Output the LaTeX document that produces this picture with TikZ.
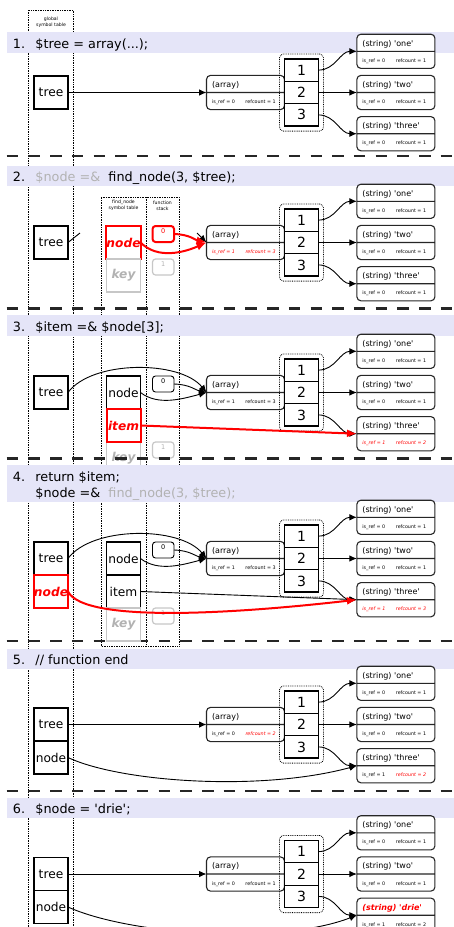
\documentclass[tikz,border=0pt]{standalone}
\usepackage{fontspec}
\setmainfont{DejaVu Sans}
\usetikzlibrary{arrows.meta,positioning,fit,shapes.multipart}
\definecolor{bandc}{RGB}{229,229,248}
\newcommand{\sq}[1]{\textquotesingle#1\textquotesingle}
\newcommand{\hl}[1]{\textcolor{red}{\itshape #1}}
\newcommand{\zhead}[1]{\rule[-4.5pt]{0pt}{16pt}{\fontsize{8}{9}\selectfont #1}}
\newcommand{\zinfo}[2]{\rule[-5.5pt]{0pt}{16pt}{\fontsize{4.8}{5}\selectfont\makebox[33.5pt][l]{#1}#2}}

\begin{document}
\begin{tikzpicture}[x=1pt,y=-1pt,line width=0.9pt,>={Latex[length=7.5pt,width=6.5pt]},
  col/.style={densely dotted,line width=0.7pt},
  hdr/.style={align=center,inner sep=0pt,font=\fontsize{4.6}{6}\selectfont},
  sep/.style={line width=2.3pt,black!85,dash pattern=on 11.5pt off 10.2pt},
  code/.style={anchor=base west,inner sep=0pt,font=\fontsize{12.8}{15}\selectfont},
  var/.style={draw,fill=white,line width=1.1pt,minimum width=34pt,minimum height=33pt,inner sep=0pt,outer sep=0pt,font=\fontsize{12.2}{14}\selectfont},
  hot/.style={draw=red,line width=2pt,text=red,font=\fontsize{12.2}{14}\selectfont\bfseries\itshape},
  ghost/.style={draw=black!22,line width=1.5pt,text=black!30,font=\fontsize{12.2}{14}\selectfont\bfseries\itshape},
  slot/.style={draw,fill=white,rounded corners=3pt,line width=0.9pt,minimum width=21.5pt,minimum height=16pt,inner sep=0pt,outer sep=0pt,text depth=5pt,font=\fontsize{6.5}{7}\selectfont},
  hotslot/.style={draw=red,text=red,line width=2pt},
  ghostslot/.style={draw=black!22,text=black!30,line width=1.2pt},
  cell/.style={draw,fill=white,line width=1.3pt,minimum width=34pt,minimum height=22.4pt,inner sep=0pt,outer sep=0pt,font=\fontsize{14}{16}\selectfont},
  zval/.style={rectangle split,rectangle split parts=2,rectangle split part align=left,draw=black!85,fill=white,line width=1.1pt,rounded corners=4pt,minimum width=78pt,inner xsep=5.5pt,inner ysep=0pt,outer sep=0pt},
  frame/.style={draw,densely dotted,line width=0.8pt,rounded corners=4pt,inner sep=5pt},
  hotline/.style={red,line width=2pt,-{Latex[length=10pt,width=8pt]}}]

\useasboundingbox (0,0) rectangle (454,927);
\clip (0,0) rectangle (454,927);

% symbol table columns
\draw[col] (28.5,927) -- (28.5,10) -- (73,10) -- (73,927);
\node[hdr] (ghead) at (51,22) {global\\symbol table};
\draw[col] (101,646) -- (101,197) -- (179,197) -- (179,646) -- cycle;
\draw[col] (146,197) -- (146,646);
\node[hdr] (fhead) at (123.5,205.5) {find\_node\\symbol table};
\node[hdr] (shead) at (162.5,205.5) {function\\stack};

% left over from step 3, half hidden by step 4
\node[var,ghost] (fkeyc) at (123.5,458.5) {key};
\node[slot,ghostslot,anchor=north west] (s1c) at ([xshift=12pt]fkeyc.north east) {1};

% steps
\fill[bandc] (7,32) rectangle (454,53);
\node[code] (numa) at (12.5,48.5) {1.};
\node[code] (codea) at (35,48.5) {\$tree = array(...);};
\draw[sep] (6.7,156) -- (454,156);

\fill[bandc] (7,165.5) rectangle (454,186.3);
\node[code] (numb) at (12.5,181.5) {2.};
\node[code] (codeb) at (35,181.5) {\textcolor{black!30}{\$node =\&}\ \ find\_node(3, \$tree);};
\draw[sep] (6.7,308.5) -- (454,308.5);

\fill[bandc] (7,315) rectangle (454,336);
\node[code] (numc) at (12.5,331.5) {3.};
\node[code] (codec) at (35,331.5) {\$item =\& \$node[3];};
\draw[sep] (6.7,458.5) -- (454,458.5);

\fill[bandc] (7,465) rectangle (454,502);
\node[code] (numd) at (12.5,481) {4.};
\node[code] (coded) at (35,481) {return \$item;};
\node[code] (codedd) at (35,497.5) {\$node =\&\ \ \textcolor{black!30}{find\_node(3, \$tree);}};
\draw[sep] (6.7,641) -- (454,641);

\fill[bandc] (7,649) rectangle (454,669.3);
\node[code] (nume) at (12.5,664.5) {5.};
\node[code] (codee) at (35,664.5) {// function end};
\draw[sep] (6.7,791) -- (454,791);

\fill[bandc] (7,797.5) rectangle (454,818);
\node[code] (numf) at (12.5,813.5) {6.};
\node[code] (codef) at (35,813.5) {\$node = \sq{drie};};

% the array and its three strings
\foreach \s/\y/\aref/\acnt/\tttl/\tref/\tcnt in {
  a/92.5/{is\_ref = 0}/{refcount = 1}/{(string) \sq{three}}/{is\_ref = 0}/{refcount = 1},
  b/242.5/{\hl{is\_ref = 1}}/{\hl{refcount = 3}}/{(string) \sq{three}}/{is\_ref = 0}/{refcount = 1},
  c/392.5/{is\_ref = 1}/{refcount = 3}/{(string) \sq{three}}/{\hl{is\_ref = 1}}/{\hl{refcount = 2}},
  d/558.5/{is\_ref = 1}/{refcount = 3}/{(string) \sq{three}}/{\hl{is\_ref = 1}}/{\hl{refcount = 3}},
  e/724.5/{is\_ref = 0}/{\hl{refcount = 2}}/{(string) \sq{three}}/{is\_ref = 1}/{\hl{refcount = 2}},
  f/874/{is\_ref = 0}/{refcount = 1}/{\hl{\bfseries (string) \sq{drie}}}/{is\_ref = 1}/{refcount = 2}}
{
  \node[zval] (arr\s) at (245.5,\y) {\zhead{(array)}\nodepart{two}\zinfo{\aref}{\acnt}};
  \node[cell,right=0pt of arr\s] (c2\s) {2};
  \node[cell,above=0pt of c2\s] (c1\s) {1};
  \node[cell,below=0pt of c2\s] (c3\s) {3};
  \node[frame,fit=(c1\s)(c3\s)] (box\s) {};
  \node[zval,right=38.4pt of c2\s] (two\s) {\zhead{(string) \sq{two}}\nodepart{two}\zinfo{is\_ref = 0}{refcount = 1}};
  \node[zval,above=7pt of two\s] (one\s) {\zhead{(string) \sq{one}}\nodepart{two}\zinfo{is\_ref = 0}{refcount = 1}};
  \node[zval,below=7pt of two\s] (three\s) {\zhead{\tttl}\nodepart{two}\zinfo{\tref}{\tcnt}};
  \path[->] (c1\s.east) edge[out=0,in=180] (one\s.west)
            (c2\s.east) edge (two\s.west)
            (c3\s.east) edge[out=0,in=180] (three\s.west);
}

% step 1
\node[var] (treea) at (51,92.5) {tree};
\draw[->] (treea.east) -- (arra.west);

% step 2
\node[var] (treeb) at (51,242.5) {tree};
\node[var,hot] (fnodeb) at (123.5,242.5) {node};
\node[var,ghost,below=0pt of fnodeb] (fkeyb) {key};
\node[slot,hotslot,anchor=north west] (s0b) at ([xshift=12pt]fnodeb.north east) {0};
\node[slot,ghostslot,anchor=north west] (s1b) at ([xshift=12pt]fkeyb.north east) {1};
\coordinate (stubb) at (80,233);
\coordinate (tailb) at (197,233);
\draw (treeb.east) -- (stubb);
\draw[->] (tailb) -- (arrb.west);
\draw[hotline] (fnodeb.east) .. controls (158,260) and (185,252) .. (arrb.west);
\draw[hotline] (s0b.east) .. controls (190,234.5) and (195,240) .. (arrb.west);

% step 3
\node[var] (treec) at (51,392.5) {tree};
\node[var] (fnodec) at (123.5,392.5) {node};
\node[var,hot,below=0pt of fnodec] (itemc) {item};
\node[slot,anchor=north west] (s0c) at ([xshift=12pt]fnodec.north east) {0};
\draw[->] (treec.east) .. controls (92,360) and (180,360) .. (arrc.west);
\draw[->] (fnodec.east) .. controls (158,406) and (182,399) .. (arrc.west);
\draw[->] (s0c.east) .. controls (190,384.5) and (195,390) .. (arrc.west);
\draw[hotline] (itemc.east) -- (threec.west);

% step 4
\node[var] (treed) at (51,558.5) {tree};
\node[var,hot,below=0pt of treed] (noded) {node};
\node[var] (fnoded) at (123.5,558.5) {node};
\node[var,below=0pt of fnoded] (itemd) {item};
\node[var,ghost,below=0pt of itemd] (fkeyd) {key};
\node[slot,anchor=north west] (s0d) at ([xshift=12pt]fnoded.north east) {0};
\node[slot,ghostslot,anchor=north west] (s1d) at ([xshift=12pt]fkeyd.north east) {1};
\draw[->] (treed.east) .. controls (92,526) and (180,526) .. (arrd.west);
\draw[->] (fnoded.east) .. controls (158,572) and (182,565) .. (arrd.west);
\draw[->] (s0d.east) .. controls (190,550.5) and (195,556) .. (arrd.west);
\draw[->] (itemd.east) -- (threed.west);
\draw[hotline] (noded.east) .. controls (85,625) and (250,612) .. (threed.west);

% step 5
\node[var] (treee) at (51,724.5) {tree};
\node[var,below=0pt of treee] (nodee) {node};
\draw[->] (treee.east) -- (arre.west);
\draw[->] (nodee.east) .. controls (120,782) and (260,792) .. (threee.west);

% step 6
\node[var] (treef) at (51,874) {tree};
\node[var,below=0pt of treef] (nodef) {node};
\draw[->] (treef.east) -- (arrf.west);
\draw[->] (nodef.east) .. controls (130,935) and (280,945) .. (threef.west);
\end{tikzpicture}
\end{document}
